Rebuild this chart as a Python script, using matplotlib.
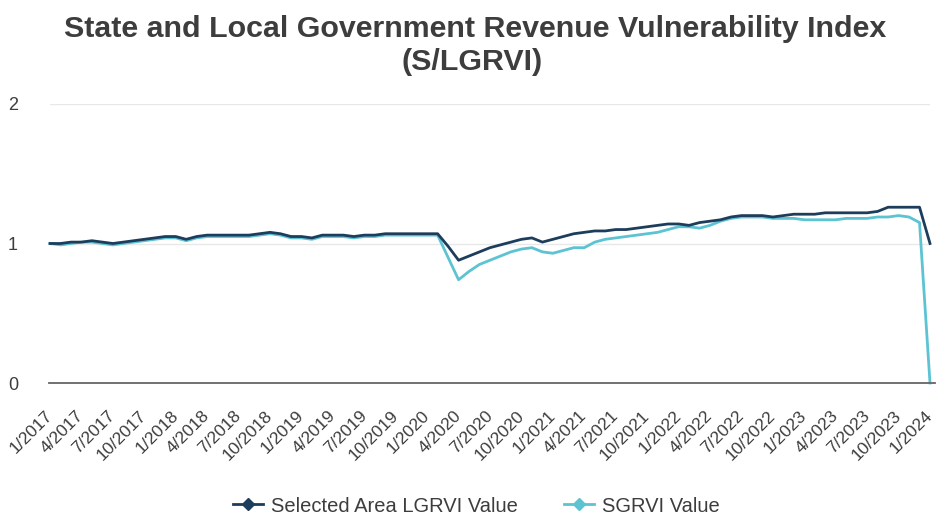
import matplotlib
matplotlib.use("Agg")
import matplotlib.pyplot as plt
import numpy as np
from matplotlib.lines import Line2D

plt.rcParams['font.family'] = ['Liberation Sans', 'DejaVu Sans']

# Monthly dates 1/2017 .. 1/2024
months = [f"{m}/{y}" for y in range(2017, 2025) for m in range(1, 13)][:85]
tick_labels = months[::3]

lgrvi = [1.00, 1.00, 1.01, 1.01, 1.02, 1.01, 1.00, 1.01, 1.02, 1.03, 1.04, 1.05,
         1.05, 1.03, 1.05, 1.06, 1.06, 1.06, 1.06, 1.06, 1.07, 1.08, 1.07, 1.05,
         1.05, 1.04, 1.06, 1.06, 1.06, 1.05, 1.06, 1.06, 1.07, 1.07, 1.07, 1.07,
         1.07, 1.07, 0.98, 0.88, 0.91, 0.94, 0.97, 0.99, 1.01, 1.03, 1.04, 1.01,
         1.03, 1.05, 1.07, 1.08, 1.09, 1.09, 1.10, 1.10, 1.11, 1.12, 1.13, 1.14,
         1.14, 1.13, 1.15, 1.16, 1.17, 1.19, 1.20, 1.20, 1.20, 1.19, 1.20, 1.21,
         1.21, 1.21, 1.22, 1.22, 1.22, 1.22, 1.22, 1.23, 1.26, 1.26, 1.26, 1.26,
         1.00]

sgrvi = [1.00, 0.99, 1.00, 1.01, 1.01, 1.00, 0.99, 1.00, 1.01, 1.02, 1.03, 1.04,
         1.04, 1.02, 1.04, 1.05, 1.05, 1.05, 1.05, 1.05, 1.06, 1.07, 1.06, 1.04,
         1.04, 1.03, 1.05, 1.05, 1.05, 1.04, 1.05, 1.05, 1.06, 1.06, 1.06, 1.06,
         1.06, 1.06, 0.90, 0.74, 0.80, 0.85, 0.88, 0.91, 0.94, 0.96, 0.97, 0.94,
         0.93, 0.95, 0.97, 0.97, 1.01, 1.03, 1.04, 1.05, 1.06, 1.07, 1.08, 1.10,
         1.12, 1.12, 1.11, 1.13, 1.16, 1.18, 1.19, 1.19, 1.19, 1.18, 1.18, 1.18,
         1.17, 1.17, 1.17, 1.17, 1.18, 1.18, 1.18, 1.19, 1.19, 1.20, 1.19, 1.15,
         0.00]

dark = '#1d3d5c'
cyan = '#5cc3d3'
text_col = '#3d3d3d'

fig = plt.figure(figsize=(9.38, 5.18), dpi=100)
ax = fig.add_axes([50/938, 1-383/518, 880/938, (383-104)/518])

x = np.arange(len(months))
ax.plot(x, lgrvi, color=dark, lw=2.0, label='Selected Area LGRVI Value', clip_on=False, zorder=3)
ax.plot(x, sgrvi, color=cyan, lw=2.0, label='SGRVI Value', clip_on=False, zorder=2)

ax.set_xlim(0, 84)
ax.set_ylim(0, 2)
ax.set_yticks([0, 1, 2])
ax.set_yticklabels(['0', '1', '2'], fontsize=13, color=text_col)
ax.tick_params(axis='y', length=0, pad=23)
ax.set_xticks(x[::3])
ax.set_xticklabels(tick_labels, rotation=45, ha='right', va='center',
                   rotation_mode='anchor', fontsize=12.5, color=text_col)
ax.tick_params(axis='x', length=0, pad=22)

for s in ['top', 'right', 'left']:
    ax.spines[s].set_visible(False)
ax.spines['bottom'].set_color('#666666')
ax.spines['bottom'].set_linewidth(1.3)
ax.spines['bottom'].set_bounds(-0.05, 84.5)
ax.grid(axis='y', color='#e8e8e8', lw=1)
ax.set_axisbelow(True)

fig.text(0.5 + 6/938, 1-29/518, 'State and Local Government Revenue Vulnerability Index',
         ha='center', va='center', fontsize=21.9, fontweight='bold', color=text_col)
fig.text(0.5 + 3/938, 1-62/518, '(S/LGRVI)', ha='center', va='center', fontsize=21.9,
         fontweight='bold', color=text_col)

handles = [Line2D([], [], color=dark, lw=2, marker='D', ms=6),
           Line2D([], [], color=cyan, lw=2, marker='D', ms=6)]
fig.legend(handles, ['Selected Area LGRVI Value', 'SGRVI Value'], loc='center',
           bbox_to_anchor=(0.508, 1-506/518), ncol=2, frameon=False, fontsize=14.5,
           labelcolor=text_col, handlelength=1.5, columnspacing=2.3, handletextpad=0.4)

fig.savefig('out.png', dpi=100)
